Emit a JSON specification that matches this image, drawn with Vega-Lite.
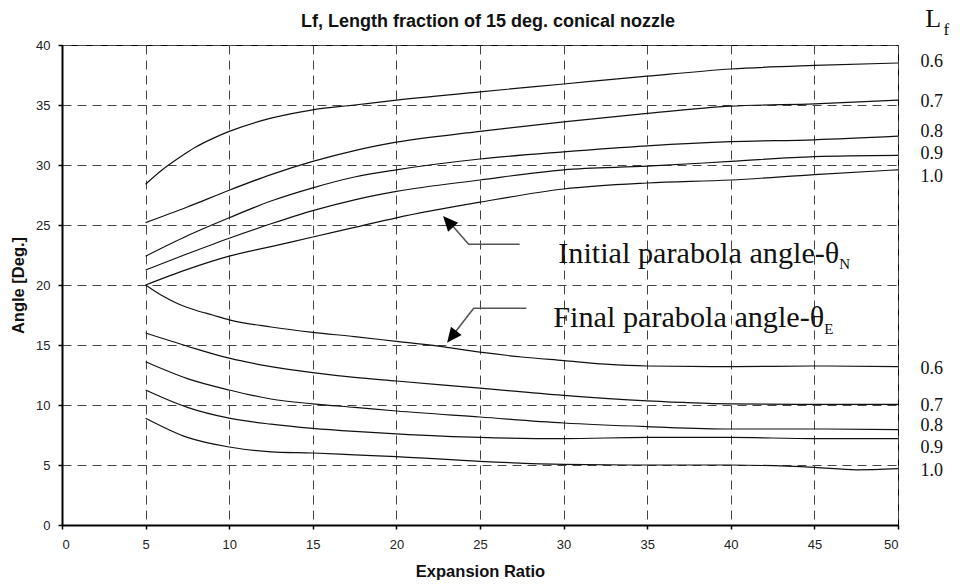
{
  "$schema": "https://vega.github.io/schema/vega-lite/v6.json",
  "width": 836,
  "height": 480,
  "autosize": {"type": "none"},
  "padding": {"left": 62, "top": 45, "right": 62, "bottom": 62},
  "background": "white",
  "config": {
    "font": "Liberation Sans",
    "view": {"stroke": "#000", "strokeWidth": 1}
  },
  "title": {
    "text": "Lf, Length fraction of 15 deg. conical nozzle",
    "font": "Liberation Sans",
    "fontSize": 18,
    "fontWeight": "bold",
    "color": "#111",
    "anchor": "middle",
    "frame": "group",
    "baseline": "alphabetic",
    "dx": 8,
    "offset": -39
  },
  "datasets": {
    "curves": [
      {"ratio": 5, "angle": 28.4, "curve": "N0.6"},
      {"ratio": 6, "angle": 29.6, "curve": "N0.6"},
      {"ratio": 7, "angle": 30.6, "curve": "N0.6"},
      {"ratio": 8, "angle": 31.5, "curve": "N0.6"},
      {"ratio": 9, "angle": 32.2, "curve": "N0.6"},
      {"ratio": 10, "angle": 32.8, "curve": "N0.6"},
      {"ratio": 12.5, "angle": 33.9, "curve": "N0.6"},
      {"ratio": 15, "angle": 34.6, "curve": "N0.6"},
      {"ratio": 17.5, "angle": 35.0, "curve": "N0.6"},
      {"ratio": 20, "angle": 35.4, "curve": "N0.6"},
      {"ratio": 25, "angle": 36.1, "curve": "N0.6"},
      {"ratio": 30, "angle": 36.75, "curve": "N0.6"},
      {"ratio": 35, "angle": 37.4, "curve": "N0.6"},
      {"ratio": 40, "angle": 38.0, "curve": "N0.6"},
      {"ratio": 45, "angle": 38.3, "curve": "N0.6"},
      {"ratio": 50, "angle": 38.5, "curve": "N0.6"},

      {"ratio": 5, "angle": 25.2, "curve": "N0.7"},
      {"ratio": 7.5, "angle": 26.5, "curve": "N0.7"},
      {"ratio": 10, "angle": 27.9, "curve": "N0.7"},
      {"ratio": 12.5, "angle": 29.2, "curve": "N0.7"},
      {"ratio": 15, "angle": 30.3, "curve": "N0.7"},
      {"ratio": 17.5, "angle": 31.2, "curve": "N0.7"},
      {"ratio": 20, "angle": 31.9, "curve": "N0.7"},
      {"ratio": 25, "angle": 32.8, "curve": "N0.7"},
      {"ratio": 30, "angle": 33.6, "curve": "N0.7"},
      {"ratio": 35, "angle": 34.3, "curve": "N0.7"},
      {"ratio": 40, "angle": 34.9, "curve": "N0.7"},
      {"ratio": 45, "angle": 35.1, "curve": "N0.7"},
      {"ratio": 50, "angle": 35.4, "curve": "N0.7"},

      {"ratio": 5, "angle": 22.4, "curve": "N0.8"},
      {"ratio": 7.5, "angle": 24.1, "curve": "N0.8"},
      {"ratio": 10, "angle": 25.6, "curve": "N0.8"},
      {"ratio": 12.5, "angle": 27.0, "curve": "N0.8"},
      {"ratio": 15, "angle": 28.1, "curve": "N0.8"},
      {"ratio": 17.5, "angle": 29.0, "curve": "N0.8"},
      {"ratio": 20, "angle": 29.6, "curve": "N0.8"},
      {"ratio": 25, "angle": 30.5, "curve": "N0.8"},
      {"ratio": 30, "angle": 31.1, "curve": "N0.8"},
      {"ratio": 35, "angle": 31.6, "curve": "N0.8"},
      {"ratio": 40, "angle": 31.95, "curve": "N0.8"},
      {"ratio": 45, "angle": 32.1, "curve": "N0.8"},
      {"ratio": 50, "angle": 32.4, "curve": "N0.8"},

      {"ratio": 5, "angle": 21.25, "curve": "N0.9"},
      {"ratio": 7.5, "angle": 22.6, "curve": "N0.9"},
      {"ratio": 10, "angle": 23.9, "curve": "N0.9"},
      {"ratio": 12.5, "angle": 25.1, "curve": "N0.9"},
      {"ratio": 15, "angle": 26.2, "curve": "N0.9"},
      {"ratio": 17.5, "angle": 27.1, "curve": "N0.9"},
      {"ratio": 20, "angle": 27.8, "curve": "N0.9"},
      {"ratio": 25, "angle": 28.75, "curve": "N0.9"},
      {"ratio": 30, "angle": 29.6, "curve": "N0.9"},
      {"ratio": 35, "angle": 29.9, "curve": "N0.9"},
      {"ratio": 40, "angle": 30.3, "curve": "N0.9"},
      {"ratio": 45, "angle": 30.7, "curve": "N0.9"},
      {"ratio": 50, "angle": 30.8, "curve": "N0.9"},

      {"ratio": 5, "angle": 20.0, "curve": "N1.0"},
      {"ratio": 7.5, "angle": 21.3, "curve": "N1.0"},
      {"ratio": 10, "angle": 22.4, "curve": "N1.0"},
      {"ratio": 12.5, "angle": 23.2, "curve": "N1.0"},
      {"ratio": 15, "angle": 24.0, "curve": "N1.0"},
      {"ratio": 17.5, "angle": 24.8, "curve": "N1.0"},
      {"ratio": 20, "angle": 25.6, "curve": "N1.0"},
      {"ratio": 25, "angle": 26.9, "curve": "N1.0"},
      {"ratio": 30, "angle": 28.0, "curve": "N1.0"},
      {"ratio": 35, "angle": 28.5, "curve": "N1.0"},
      {"ratio": 40, "angle": 28.75, "curve": "N1.0"},
      {"ratio": 45, "angle": 29.2, "curve": "N1.0"},
      {"ratio": 50, "angle": 29.6, "curve": "N1.0"},

      {"ratio": 5, "angle": 20.0, "curve": "E0.6"},
      {"ratio": 6, "angle": 19.1, "curve": "E0.6"},
      {"ratio": 7, "angle": 18.4, "curve": "E0.6"},
      {"ratio": 8, "angle": 17.9, "curve": "E0.6"},
      {"ratio": 9, "angle": 17.5, "curve": "E0.6"},
      {"ratio": 10, "angle": 17.1, "curve": "E0.6"},
      {"ratio": 12.5, "angle": 16.5, "curve": "E0.6"},
      {"ratio": 15, "angle": 16.05, "curve": "E0.6"},
      {"ratio": 17.5, "angle": 15.7, "curve": "E0.6"},
      {"ratio": 20, "angle": 15.3, "curve": "E0.6"},
      {"ratio": 22.5, "angle": 14.9, "curve": "E0.6"},
      {"ratio": 25, "angle": 14.4, "curve": "E0.6"},
      {"ratio": 27.5, "angle": 14.0, "curve": "E0.6"},
      {"ratio": 30, "angle": 13.7, "curve": "E0.6"},
      {"ratio": 32.5, "angle": 13.4, "curve": "E0.6"},
      {"ratio": 35, "angle": 13.25, "curve": "E0.6"},
      {"ratio": 40, "angle": 13.2, "curve": "E0.6"},
      {"ratio": 45, "angle": 13.25, "curve": "E0.6"},
      {"ratio": 50, "angle": 13.2, "curve": "E0.6"},

      {"ratio": 5, "angle": 16.0, "curve": "E0.7"},
      {"ratio": 7.5, "angle": 14.9, "curve": "E0.7"},
      {"ratio": 10, "angle": 13.9, "curve": "E0.7"},
      {"ratio": 12.5, "angle": 13.2, "curve": "E0.7"},
      {"ratio": 15, "angle": 12.7, "curve": "E0.7"},
      {"ratio": 17.5, "angle": 12.3, "curve": "E0.7"},
      {"ratio": 20, "angle": 12.0, "curve": "E0.7"},
      {"ratio": 25, "angle": 11.4, "curve": "E0.7"},
      {"ratio": 30, "angle": 10.8, "curve": "E0.7"},
      {"ratio": 35, "angle": 10.35, "curve": "E0.7"},
      {"ratio": 40, "angle": 10.1, "curve": "E0.7"},
      {"ratio": 45, "angle": 10.05, "curve": "E0.7"},
      {"ratio": 50, "angle": 10.05, "curve": "E0.7"},

      {"ratio": 5, "angle": 13.6, "curve": "E0.8"},
      {"ratio": 7.5, "angle": 12.2, "curve": "E0.8"},
      {"ratio": 10, "angle": 11.25, "curve": "E0.8"},
      {"ratio": 12.5, "angle": 10.5, "curve": "E0.8"},
      {"ratio": 15, "angle": 10.1, "curve": "E0.8"},
      {"ratio": 17.5, "angle": 9.8, "curve": "E0.8"},
      {"ratio": 20, "angle": 9.5, "curve": "E0.8"},
      {"ratio": 25, "angle": 9.0, "curve": "E0.8"},
      {"ratio": 30, "angle": 8.5, "curve": "E0.8"},
      {"ratio": 35, "angle": 8.2, "curve": "E0.8"},
      {"ratio": 40, "angle": 8.0, "curve": "E0.8"},
      {"ratio": 45, "angle": 8.0, "curve": "E0.8"},
      {"ratio": 50, "angle": 7.95, "curve": "E0.8"},

      {"ratio": 5, "angle": 11.25, "curve": "E0.9"},
      {"ratio": 7.5, "angle": 9.8, "curve": "E0.9"},
      {"ratio": 10, "angle": 8.9, "curve": "E0.9"},
      {"ratio": 12.5, "angle": 8.4, "curve": "E0.9"},
      {"ratio": 15, "angle": 8.05, "curve": "E0.9"},
      {"ratio": 17.5, "angle": 7.8, "curve": "E0.9"},
      {"ratio": 20, "angle": 7.6, "curve": "E0.9"},
      {"ratio": 25, "angle": 7.3, "curve": "E0.9"},
      {"ratio": 30, "angle": 7.2, "curve": "E0.9"},
      {"ratio": 35, "angle": 7.3, "curve": "E0.9"},
      {"ratio": 40, "angle": 7.3, "curve": "E0.9"},
      {"ratio": 45, "angle": 7.2, "curve": "E0.9"},
      {"ratio": 50, "angle": 7.2, "curve": "E0.9"},

      {"ratio": 5, "angle": 8.9, "curve": "E1.0"},
      {"ratio": 7.5, "angle": 7.3, "curve": "E1.0"},
      {"ratio": 10, "angle": 6.5, "curve": "E1.0"},
      {"ratio": 12.5, "angle": 6.1, "curve": "E1.0"},
      {"ratio": 15, "angle": 6.0, "curve": "E1.0"},
      {"ratio": 17.5, "angle": 5.85, "curve": "E1.0"},
      {"ratio": 20, "angle": 5.7, "curve": "E1.0"},
      {"ratio": 25, "angle": 5.3, "curve": "E1.0"},
      {"ratio": 30, "angle": 5.05, "curve": "E1.0"},
      {"ratio": 35, "angle": 5.0, "curve": "E1.0"},
      {"ratio": 40, "angle": 5.0, "curve": "E1.0"},
      {"ratio": 45, "angle": 4.8, "curve": "E1.0"},
      {"ratio": 47.5, "angle": 4.6, "curve": "E1.0"},
      {"ratio": 50, "angle": 4.7, "curve": "E1.0"}
    ],
    "labels": [
      {"ratio": 51.35, "angle": 38.56, "label": "0.6"},
      {"ratio": 51.35, "angle": 35.28, "label": "0.7"},
      {"ratio": 51.35, "angle": 32.72, "label": "0.8"},
      {"ratio": 51.35, "angle": 30.89, "label": "0.9"},
      {"ratio": 51.35, "angle": 29.03, "label": "1.0"},
      {"ratio": 51.35, "angle": 12.97, "label": "0.6"},
      {"ratio": 51.35, "angle": 9.92, "label": "0.7"},
      {"ratio": 51.35, "angle": 8.28, "label": "0.8"},
      {"ratio": 51.35, "angle": 6.39, "label": "0.9"},
      {"ratio": 51.35, "angle": 4.53, "label": "1.0"}
    ],
    "arrows": [
      {"arrow": "N", "seq": 1, "ratio": 27.37, "angle": 23.39},
      {"arrow": "N", "seq": 2, "ratio": 24.32, "angle": 23.39},
      {"arrow": "N", "seq": 3, "ratio": 23.0, "angle": 25.5},
      {"arrow": "E", "seq": 1, "ratio": 27.77, "angle": 18.06},
      {"arrow": "E", "seq": 2, "ratio": 24.62, "angle": 18.06},
      {"arrow": "E", "seq": 3, "ratio": 23.2, "angle": 15.5}
    ],
    "tips": [
      {"arrow": "N", "ratio": 22.79, "angle": 25.75},
      {"arrow": "E", "ratio": 23.03, "angle": 15.19}
    ],
    "notes": [
      {"ratio": 46.49, "angle": 21.81, "text": "Initial parabola angle-θ", "sub": "N", "subAngle": 21.31},
      {"ratio": 45.59, "angle": 16.53, "text": "Final parabola angle-θ", "sub": "E", "subAngle": 15.92}
    ],
    "lf": [
      {"ratio": 51.63, "angle": 41.5, "text": "L", "subRatio": 52.72, "subAngle": 40.83, "sub": "f"}
    ]
  },
  "layer": [
    {
      "data": {"name": "curves"},
      "mark": {"type": "line", "color": "#111", "strokeWidth": 1.2, "interpolate": "monotone"},
      "encoding": {
        "x": {
          "field": "ratio", "type": "quantitative",
          "scale": {"domain": [0, 50], "nice": false},
          "axis": {
            "title": "Expansion Ratio",
            "values": [0, 5, 10, 15, 20, 25, 30, 35, 40, 45, 50],
            "labelFont": "Liberation Sans", "labelFontSize": 13, "labelColor": "#222",
            "labelPadding": 9, "tickSize": 4, "tickColor": "#000", "tickWidth": 1.5,
            "domainColor": "#000", "domainWidth": 2,
            "grid": true, "gridColor": "#444", "gridDash": [9, 6], "gridWidth": 1,
            "titleFont": "Liberation Sans", "titleFontSize": 16.5, "titleFontWeight": "bold",
            "titleColor": "#111", "titlePadding": 12
          }
        },
        "y": {
          "field": "angle", "type": "quantitative",
          "scale": {"domain": [0, 40], "nice": false},
          "axis": {
            "title": "Angle [Deg.]",
            "values": [0, 5, 10, 15, 20, 25, 30, 35, 40],
            "labelFont": "Liberation Sans", "labelFontSize": 13, "labelColor": "#222",
            "labelPadding": 8, "tickSize": 4, "tickColor": "#000", "tickWidth": 1.5,
            "domainColor": "#000", "domainWidth": 2,
            "grid": true, "gridColor": "#444", "gridDash": [9, 6], "gridWidth": 1,
            "titleFont": "Liberation Sans", "titleFontSize": 16.5, "titleFontWeight": "bold",
            "titleColor": "#111", "titlePadding": 9
          }
        },
        "detail": {"field": "curve", "type": "nominal"}
      }
    },
    {
      "data": {"name": "arrows"},
      "mark": {"type": "line", "color": "#555", "strokeWidth": 1.6},
      "encoding": {
        "x": {"field": "ratio", "type": "quantitative"},
        "y": {"field": "angle", "type": "quantitative"},
        "detail": {"field": "arrow", "type": "nominal"},
        "order": {"field": "seq", "type": "quantitative"}
      }
    },
    {
      "data": {"name": "tips"},
      "transform": [{"filter": "datum.arrow === 'N'"}],
      "mark": {"type": "point", "shape": "M0,0L-0.45,1L0.45,1Z", "filled": true, "color": "#000", "opacity": 1, "size": 900, "angle": 318},
      "encoding": {
        "x": {"field": "ratio", "type": "quantitative"},
        "y": {"field": "angle", "type": "quantitative"}
      }
    },
    {
      "data": {"name": "tips"},
      "transform": [{"filter": "datum.arrow === 'E'"}],
      "mark": {"type": "point", "shape": "M0,0L-0.45,1L0.45,1Z", "filled": true, "color": "#000", "opacity": 1, "size": 900, "angle": 218},
      "encoding": {
        "x": {"field": "ratio", "type": "quantitative"},
        "y": {"field": "angle", "type": "quantitative"}
      }
    },
    {
      "data": {"name": "labels"},
      "mark": {"type": "text", "font": "Liberation Serif", "fontSize": 18, "align": "left", "baseline": "middle", "color": "#111"},
      "encoding": {
        "x": {"field": "ratio", "type": "quantitative"},
        "y": {"field": "angle", "type": "quantitative"},
        "text": {"field": "label"}
      }
    },
    {
      "data": {"name": "notes"},
      "mark": {"type": "text", "font": "Liberation Serif", "fontSize": 30.2, "align": "right", "baseline": "alphabetic", "color": "#111"},
      "encoding": {
        "x": {"field": "ratio", "type": "quantitative"},
        "y": {"field": "angle", "type": "quantitative"},
        "text": {"field": "text"}
      }
    },
    {
      "data": {"name": "notes"},
      "mark": {"type": "text", "font": "Liberation Serif", "fontSize": 15, "align": "left", "baseline": "alphabetic", "color": "#111"},
      "encoding": {
        "x": {"field": "ratio", "type": "quantitative"},
        "y": {"field": "subAngle", "type": "quantitative"},
        "text": {"field": "sub"}
      }
    },
    {
      "data": {"name": "lf"},
      "mark": {"type": "text", "font": "Liberation Serif", "fontSize": 26, "align": "left", "baseline": "alphabetic", "color": "#111"},
      "encoding": {
        "x": {"field": "ratio", "type": "quantitative"},
        "y": {"field": "angle", "type": "quantitative"},
        "text": {"field": "text"}
      }
    },
    {
      "data": {"name": "lf"},
      "mark": {"type": "text", "font": "Liberation Serif", "fontSize": 17, "align": "left", "baseline": "alphabetic", "color": "#111"},
      "encoding": {
        "x": {"field": "subRatio", "type": "quantitative"},
        "y": {"field": "subAngle", "type": "quantitative"},
        "text": {"field": "sub"}
      }
    }
  ]
}
